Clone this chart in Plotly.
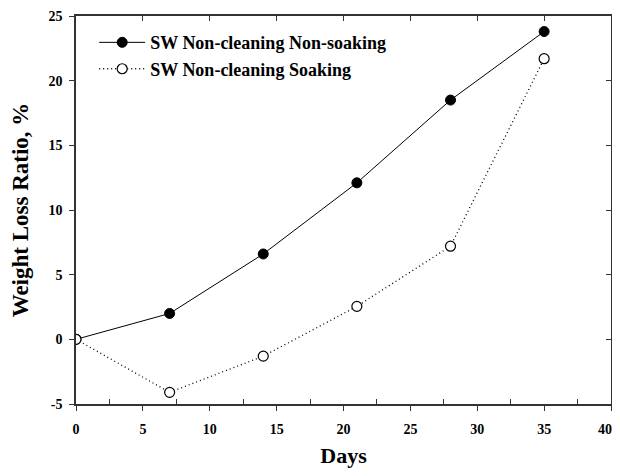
import plotly.graph_objects as go

days = [0, 7, 14, 21, 28, 35]
non_soaking = [0.0, 2.0, 6.6, 12.1, 18.5, 23.8]
soaking = [0.0, -4.1, -1.3, 2.55, 7.2, 21.7]
series_names = ["SW Non-cleaning Non-soaking", "SW Non-cleaning Soaking"]
x_ticks = [0, 5, 10, 15, 20, 25, 30, 35, 40]
x_tick_labels = ["0", "5", "10", "15", "20", "25", "30", "35", ""]
last_x_label = "40"
x_minor = [2.5, 7.5, 12.5, 17.5, 22.5, 27.5, 32.5, 37.5]
y_ticks = [-5, 0, 5, 10, 15, 20, 25]
y_tick_labels = ["-5", "0", "5", "10", "15", "20", "25"]

font_family = "Liberation Serif, Times New Roman, serif"
axis_col = "#333"

fig = go.Figure()
fig.add_trace(go.Scatter(
    x=days, y=non_soaking, name=series_names[0], mode="lines+markers",
    line=dict(color="black", width=1),
    marker=dict(symbol="circle", size=10, color="black", line=dict(color="black", width=1)),
))
fig.add_trace(go.Scatter(
    x=days, y=soaking, name=series_names[1], mode="lines+markers",
    line=dict(color="black", width=1.3, dash="1px,3px"),
    marker=dict(symbol="circle", size=10, color="white", line=dict(color="black", width=1.2)),
))
# invisible trace to carry mirror axes
fig.add_trace(go.Scatter(x=[0], y=[0], xaxis="x2", yaxis="y2", mode="markers",
                         marker=dict(opacity=0), showlegend=False, hoverinfo="skip"))

# last x tick label, kept inside the page so it is not clipped
fig.add_annotation(x=x_ticks[-1], xref="x", y=0, yref="paper", text=last_x_label,
                   showarrow=False, xanchor="right", yanchor="top", xshift=3, yshift=-16,
                   font=dict(size=14, family=font_family, color="black", weight="bold"))

# page body has an 8px margin; keep the page from scrolling
fig.update_layout(
    template="none",
    width=612, height=460,
    margin=dict(l=68, r=9, t=8, b=64, autoexpand=False),
    paper_bgcolor="white", plot_bgcolor="white",
    font=dict(family=font_family, color="black"),
    showlegend=True,
    legend=dict(x=0.034, y=0.979, xanchor="left", yanchor="top",
                font=dict(size=18, family=font_family, color="black", weight="bold"),
                bgcolor="rgba(0,0,0,0)", itemwidth=46, tracegroupgap=0),
    xaxis=dict(
        range=[0, 40], tickvals=x_ticks, ticktext=x_tick_labels, automargin=False,
        ticks="outside", ticklen=5, tickwidth=1.2, tickcolor=axis_col,
        minor=dict(tickvals=x_minor, ticks="inside", ticklen=5, tickwidth=1.2, tickcolor=axis_col),
        showline=True, linecolor=axis_col, linewidth=1.5, showgrid=False, zeroline=False,
        ticklabeloverflow="allow", ticklabelstandoff=6,
        tickfont=dict(size=14, family=font_family, weight="bold"),
        title=dict(text="Days", font=dict(size=22, family=font_family, weight="bold"), standoff=14),
    ),
    yaxis=dict(
        range=[-5, 25], tickvals=y_ticks, ticktext=y_tick_labels, automargin=False,
        ticks="outside", ticklen=5, tickwidth=1.2, tickcolor=axis_col,
        showline=True, linecolor=axis_col, linewidth=1.5, showgrid=False, zeroline=False,
        ticklabelstandoff=4, ticklabeloverflow="allow",
        tickfont=dict(size=14, family=font_family, weight="bold"),
        title=dict(text="Weight Loss Ratio, %", font=dict(size=23, family=font_family, weight="bold"), standoff=16),
    ),
    xaxis2=dict(
        range=[0, 40], overlaying="x", side="top", tickvals=x_ticks[1:-1], automargin=False,
        ticks="inside", ticklen=5, tickwidth=1.2, tickcolor=axis_col, showticklabels=False,
        showline=True, linecolor=axis_col, linewidth=1.5, showgrid=False, zeroline=False,
    ),
    yaxis2=dict(
        range=[-5, 25], overlaying="y", side="right", tickvals=y_ticks[1:-1], automargin=False,
        ticks="inside", ticklen=5, tickwidth=1.2, tickcolor=axis_col, showticklabels=False,
        showline=True, linecolor=axis_col, linewidth=1.5, showgrid=False, zeroline=False,
    ),
)

fig.write_html("out.html")
